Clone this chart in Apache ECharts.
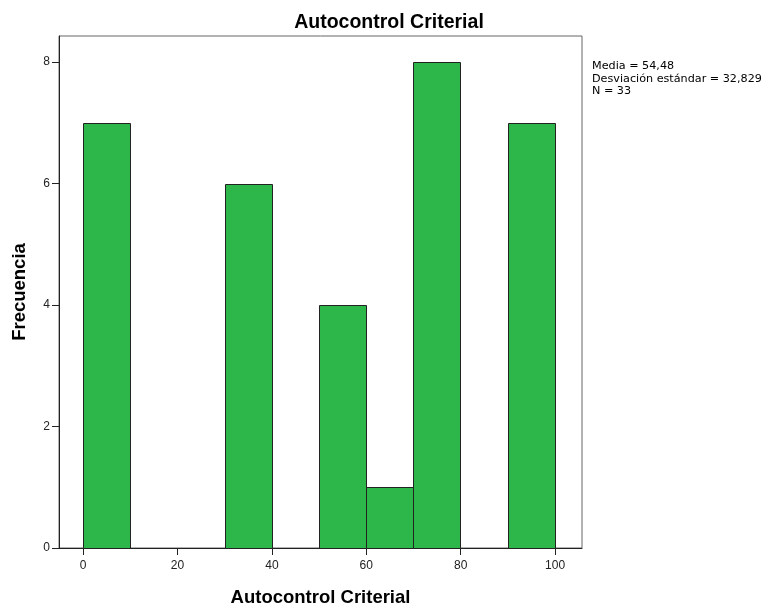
<!DOCTYPE html>
<html>
<head>
<meta charset="utf-8">
<script src="https://cdn.jsdelivr.net/npm/echarts@6/dist/echarts.min.js"></script>
<style>
  html, body { margin: 0; padding: 0; background: #fff; }
  #chart { width: 768px; height: 604px; }
</style>
</head>
<body>
<div id="chart"></div>
<script>
// histogram bins (lower edge), width 10
const binStarts = [0, 10, 20, 30, 40, 50, 60, 70, 80, 90];
const counts    = [7, 0, 0, 6, 0, 4, 1, 8, 0, 7];
const binWidth  = 10;

const xTicks = [0, 20, 40, 60, 80, 100];
const yTicks = [0, 2, 4, 6, 8];

const statsLines = ['Media = 54,48', 'Desviación estándar = 32,829', 'N = 33'];

const fontMain = '"Liberation Sans", Arial, sans-serif';
const barColor = '#2db74a';

const chart = echarts.init(document.getElementById('chart'), null, { renderer: 'canvas' });

chart.setOption({
  animation: false,
  title: {
    text: 'Autocontrol Criterial',
    left: 384, top: 8, textAlign: 'center',
    textStyle: { fontFamily: fontMain, fontSize: 19.5, fontWeight: 'bold', color: '#000' }
  },
  grid: {
    left: 59, right: 186, top: 36, bottom: 56,
    outerBoundsMode: 'none', containLabel: false,
    show: true, borderColor: '#666', borderWidth: 1, backgroundColor: '#fff'
  },
  xAxis: {
    type: 'value', min: -5.1, max: 105.7,
    name: 'Autocontrol Criterial', nameLocation: 'middle', nameGap: 40,
    nameTextStyle: { fontFamily: fontMain, fontSize: 18.5, fontWeight: 'bold', color: '#000' },
    splitLine: { show: false },
    axisLine: { show: true, onZero: false, lineStyle: { color: '#222', width: 1 } },
    axisTick: { show: true, inside: false, customValues: xTicks, length: 7, lineStyle: { color: '#222', width: 1 } },
    axisLabel: { customValues: xTicks, fontFamily: fontMain, fontSize: 12, color: '#222', margin: 12 }
  },
  yAxis: {
    type: 'value', min: 0, max: 8.43,
    name: 'Frecuencia', nameLocation: 'middle', nameGap: 30, nameRotate: 90,
    nameTextStyle: { fontFamily: fontMain, fontSize: 18.5, fontWeight: 'bold', color: '#000' },
    splitLine: { show: false },
    axisLine: { show: true, onZero: false, lineStyle: { color: '#222', width: 1 } },
    axisTick: { show: true, customValues: yTicks, length: 7, lineStyle: { color: '#222' } },
    axisLabel: { customValues: yTicks, fontFamily: fontMain, fontSize: 12, color: '#222', margin: 9 }
  },
  graphic: [{
    type: 'text', left: 592, top: 60,
    style: {
      text: statsLines.join('\n'),
      fontFamily: '"DejaVu Sans", sans-serif', fontSize: 11.2, lineHeight: 12.5, fill: '#000'
    }
  }],
  series: [{
    type: 'custom',
    data: binStarts.map((s, i) => [s, s + binWidth, counts[i]]),
    encode: { x: [0, 1], y: 2 },
    renderItem: (params, api) => {
      const h = api.value(2);
      if (!h) return null;
      const p0 = api.coord([api.value(0), h]);
      const p1 = api.coord([api.value(1), 0]);
      return {
        type: 'rect',
        shape: { x: Math.round(p0[0]) + 0.5, y: Math.round(p0[1]) + 0.5, width: Math.round(p1[0] - p0[0]), height: Math.round(p1[1] - p0[1]) },
        style: { fill: barColor, stroke: '#222', lineWidth: 1 }
      };
    }
  }]
});
</script>
</body>
</html>
